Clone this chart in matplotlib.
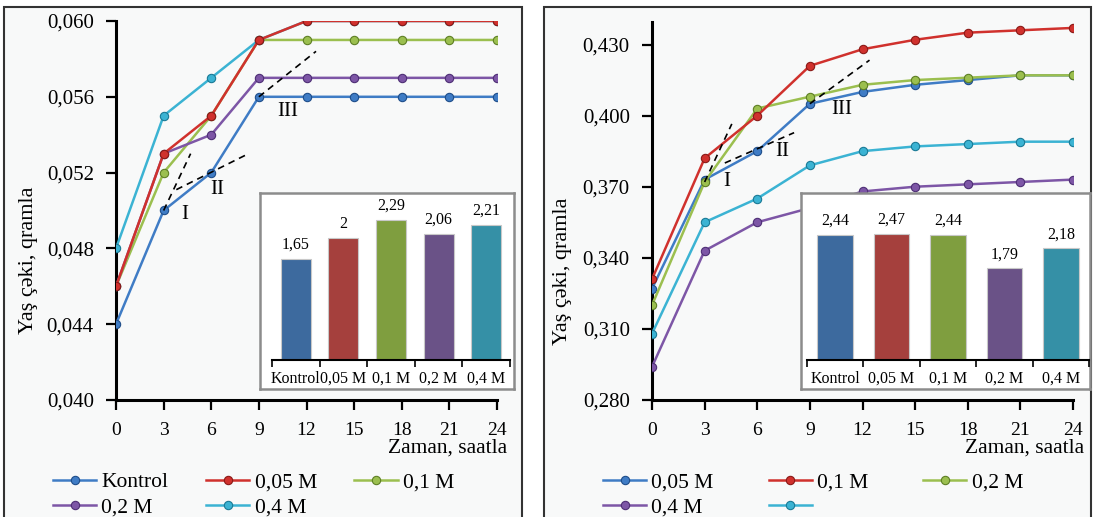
import matplotlib
matplotlib.use("Agg")
import matplotlib.pyplot as plt
from matplotlib.patches import Rectangle
from matplotlib.ticker import FuncFormatter, FixedLocator

plt.rcParams['font.family'] = ['Liberation Serif', 'DejaVu Serif']

# ---- data ----
hours = [0, 3, 6, 9, 12, 15, 18, 21, 24]

left_labels = ['Kontrol', '0,05 M', '0,1 M', '0,2 M', '0,4 M']
left_kontrol = [0.044, 0.050, 0.052, 0.056, 0.056, 0.056, 0.056, 0.056, 0.056]
left_005 = [0.046, 0.053, 0.055, 0.059, 0.060, 0.060, 0.060, 0.060, 0.060]
left_01 = [0.046, 0.052, 0.055, 0.059, 0.059, 0.059, 0.059, 0.059, 0.059]
left_02 = [0.046, 0.053, 0.054, 0.057, 0.057, 0.057, 0.057, 0.057, 0.057]
left_04 = [0.048, 0.055, 0.057, 0.059, 0.060, 0.060, 0.060, 0.060, 0.060]

right_labels = ['0,05 M', '0,1 M', '0,2 M', '0,4 M', '']
right_blue = [0.327, 0.373, 0.385, 0.405, 0.410, 0.413, 0.415, 0.417, 0.417]
right_red = [0.331, 0.382, 0.400, 0.421, 0.428, 0.432, 0.435, 0.436, 0.437]
right_green = [0.320, 0.372, 0.403, 0.408, 0.413, 0.415, 0.416, 0.417, 0.417]
right_purple = [0.294, 0.343, 0.355, 0.361, 0.368, 0.370, 0.371, 0.372, 0.373]
right_cyan = [0.308, 0.355, 0.365, 0.379, 0.385, 0.387, 0.388, 0.389, 0.389]

bar_cats = ['Kontrol', '0,05 M', '0,1 M', '0,2 M', '0,4 M']
left_bars = [1.65, 2.0, 2.29, 2.06, 2.21]
left_bar_txt = ['1,65', '2', '2,29', '2,06', '2,21']
right_bars = [2.44, 2.47, 2.44, 1.79, 2.18]
right_bar_txt = ['2,44', '2,47', '2,44', '1,79', '2,18']

# tangent (dashed) lines and roman labels: (x0, x1), (y0, y1)
left_tangents = [((3.0, 4.7), (0.0500, 0.0530)),
                 ((3.8, 8.35), (0.0511, 0.0530)),
                 ((9.0, 12.6), (0.0560, 0.0584))]
left_roman = [('I', 4.3, 0.0498), ('II', 6.4, 0.0511), ('III', 10.8, 0.0552)]
right_tangents = [((3.0, 4.55), (0.372, 0.3965)),
                  ((4.15, 8.1), (0.380, 0.3928)),
                  ((9.0, 12.4), (0.405, 0.4234))]
right_roman = [('I', 4.25, 0.372), ('II', 7.4, 0.3847), ('III', 10.8, 0.4025)]

line_colors = ['#3F7CC5', '#D0312D', '#9BBF4F', '#7D56A6', '#3BB3D3']
edge_colors = ['#1F4E8A', '#8A1A17', '#5E7F25', '#4E2F75', '#1A7A96']
bar_colors = ['#3D6A9E', '#A5403D', '#7F9E3F', '#6A5287', '#3590A6']

W, H = 1093, 517
fig = plt.figure(figsize=(W / 100, H / 100), dpi=100)


def rect(l, t, r, b):
    return [l / W, 1 - b / H, (r - l) / W, (b - t) / H]


# panel frames
for l, r in [(4, 522), (544, 1091)]:
    fig.patches.append(Rectangle((l / W, -0.05), (r - l) / W, 1.05 - 7 / H,
                                 transform=fig.transFigure, facecolor='#F8F9F9',
                                 edgecolor='#333333', lw=1.5, zorder=-1))


def comma(fmt):
    return FuncFormatter(lambda v, p: fmt.format(v).replace('.', ','))


def main_axes(box, series, labels, ylim, yticks, tangents, roman):
    ax = fig.add_axes(rect(*box))
    ax.patch.set_visible(False)
    for i, s in enumerate(series):
        ax.plot(hours, s, color=line_colors[i], lw=1.8, marker='o', ms=6,
                mfc=line_colors[i], mec=edge_colors[i], mew=0.8,
                label=labels[i], zorder=3 + (i == 1))
    for (xs, ys) in tangents:
        ax.plot(xs, ys, color='black', ls=(0, (4, 3)), lw=1.2, zorder=5)
    for t, x, y in roman:
        ax.text(x, y, t, fontsize=15, ha='center', va='center', zorder=6)
    ax.set_xlim(0, 24)
    ax.set_ylim(*ylim)
    ax.set_xticks(hours)
    ax.set_yticks(yticks)
    ax.yaxis.set_major_formatter(comma('{:.3f}'))
    for s in ['top', 'right']:
        ax.spines[s].set_visible(False)
    for s in ['left', 'bottom']:
        ax.spines[s].set_linewidth(2.2)
    ax.tick_params(axis='both', direction='out', length=7, width=1.6)
    ax.tick_params(axis='y', pad=9, labelsize=15)
    ax.tick_params(axis='x', pad=9, labelsize=14)
    ax.set_ylabel('Yaş çəki, qramla', fontsize=16)
    ax.text(1.026, -0.127, 'Zaman, saatla', transform=ax.transAxes, ha='right',
            va='center', fontsize=15.5)
    return ax


def inset(box_outer, box_inner, vals, txt, ymax):
    bx = fig.add_axes(rect(*box_outer))
    bx.set_facecolor('white')
    bx.set_xticks([])
    bx.set_yticks([])
    for s in bx.spines.values():
        s.set_edgecolor('#8C8C8C')
        s.set_linewidth(1.8)
    ia = fig.add_axes(rect(*box_inner))
    ia.patch.set_visible(False)
    xs = range(len(bar_cats))
    ia.bar(xs, vals, width=0.63, color=bar_colors, edgecolor='#C8C8C8', lw=0.8)
    for x, v, t in zip(xs, vals, txt):
        ia.text(x, v + 0.1 * ymax / 2.6, t, ha='center', va='bottom', fontsize=11.5)
    ia.set_xlim(-0.5, len(bar_cats) - 0.5)
    ia.set_ylim(0, ymax)
    ia.set_yticks([])
    ia.set_xticks(list(xs))
    ia.set_xticklabels(bar_cats, fontsize=11.5)
    ia.xaxis.set_minor_locator(FixedLocator([i - 0.5 for i in range(len(bar_cats) + 1)]))
    ia.tick_params(axis='x', which='major', length=0, pad=8)
    ia.tick_params(axis='x', which='minor', length=5, width=1.2, direction='out')
    for s in ['top', 'right', 'left']:
        ia.spines[s].set_visible(False)
    ia.spines['bottom'].set_linewidth(1.5)
    return ia


axL = main_axes((116, 21, 497, 400),
                [left_kontrol, left_005, left_01, left_02, left_04], left_labels,
                (0.040, 0.060), [0.040, 0.044, 0.048, 0.052, 0.056, 0.060],
                left_tangents, left_roman)
axL.yaxis.set_label_coords(-0.205, 0.37)

axR = main_axes((652, 22, 1073, 400),
                [right_blue, right_red, right_green, right_purple, right_cyan], right_labels,
                (0.280, 0.4395), [0.280, 0.310, 0.340, 0.370, 0.400, 0.430],
                right_tangents, right_roman)
axR.yaxis.set_label_coords(-0.19, 0.34)

inset((260, 193, 514, 389), (272, 200, 510, 360), left_bars, left_bar_txt, 2.62)
inset((801, 193, 1090, 389), (807, 200, 1089, 360), right_bars, right_bar_txt, 3.125)

# legends (column-major order to get row-major layout)
order = [0, 3, 1, 4, 2]
for ax, x0, cs in [(axL, 53, 1.75), (axR, 603, 2.55)]:
    h = ax.get_lines()[:5]
    lab = left_labels if ax is axL else right_labels
    fig.legend([h[i] for i in order], [lab[i] for i in order], ncol=3,
               loc='upper left', bbox_to_anchor=(x0 / W, 1 - 472 / H),
               frameon=False, fontsize=15.5, handlelength=2.0, handletextpad=0.25,
               columnspacing=cs, labelspacing=0.25, borderpad=0, borderaxespad=0)

fig.savefig('out.png', dpi=100)
